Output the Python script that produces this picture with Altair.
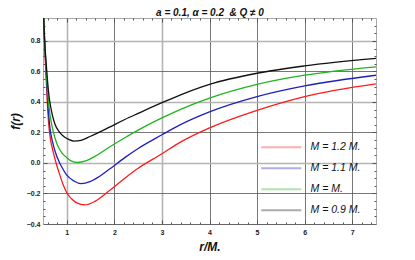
import altair as alt
import pandas as pd

# ---- data ----
labels = ["M = 1.2 M.", "M = 1.1 M.", "M = M.", "M = 0.9 M."]
colors = ["#ff1a1a", "#1f1fbf", "#1fb41f", "#111111"]

r_12 = [0.50, 0.525, 0.56, 0.59, 0.63, 0.66, 0.70, 0.775, 0.85, 0.92, 1.00, 1.10, 1.20, 1.38,
        1.60, 1.90, 2.22, 2.50, 3.00, 3.38, 4.00, 5.00, 6.00, 7.50]
f_12 = [1.05, 0.83, 0.60, 0.40, 0.22, 0.15, 0.09, 0.00, -0.075, -0.14, -0.195, -0.235, -0.26, -0.275,
        -0.25, -0.18, -0.10, -0.035, 0.06, 0.135, 0.23, 0.345, 0.435, 0.518]

r_11 = [0.50, 0.53, 0.565, 0.60, 0.65, 0.70, 0.75, 0.85, 0.90, 1.00, 1.15, 1.30, 1.50, 1.70,
        1.90, 2.22, 2.50, 3.00, 3.38, 4.00, 5.00, 6.00, 7.50]
f_11 = [1.05, 0.82, 0.60, 0.40, 0.22, 0.14, 0.08, 0.00, -0.03, -0.08, -0.118, -0.135, -0.12, -0.085,
        -0.04, 0.035, 0.095, 0.185, 0.25, 0.335, 0.435, 0.505, 0.575]

r_10 = [0.50, 0.535, 0.57, 0.61, 0.65, 0.72, 0.80, 0.90, 1.00, 1.10, 1.22, 1.40, 1.60, 1.90,
        2.22, 2.50, 3.00, 3.38, 4.00, 5.00, 6.00, 7.50]
f_10 = [1.05, 0.80, 0.60, 0.42, 0.31, 0.20, 0.12, 0.065, 0.035, 0.012, 0.003, 0.013, 0.045, 0.105,
        0.165, 0.215, 0.295, 0.35, 0.425, 0.515, 0.575, 0.63]

r_09 = [0.50, 0.54, 0.58, 0.60, 0.63, 0.66, 0.70, 0.75, 0.85, 0.95, 1.05, 1.15, 1.30, 1.50,
        1.90, 2.22, 2.50, 3.00, 3.38, 4.00, 5.00, 6.00, 7.50]
f_09 = [1.05, 0.77, 0.60, 0.52, 0.43, 0.37, 0.31, 0.255, 0.20, 0.17, 0.153, 0.143, 0.148, 0.175,
        0.235, 0.285, 0.325, 0.395, 0.445, 0.515, 0.588, 0.636, 0.685]

x_major = [1, 2, 3, 4, 5, 6, 7]
y_major = [-0.4, -0.2, 0.0, 0.2, 0.4, 0.6, 0.8]
x_ticks = [round(0.6 + 0.2 * i, 1) for i in range(35)]
y_ticks = [round(-0.35 + 0.05 * i, 2) for i in range(26)]
title_text = "a = 0.1, \u03b1 = 0.2\u00a0 & Q \u2260 0"

rows = []
for lab, rs, fs in zip(labels, [r_12, r_11, r_10, r_09], [f_12, f_11, f_10, f_09]):
    for r, f in zip(rs, fs):
        rows.append({"r": r, "f": f, "series": lab})
df = pd.DataFrame(rows)

W, H = 333, 206
FONT = "Liberation Sans"

xs = alt.Scale(domain=[0.5, 7.5], nice=False, zero=False)
ys = alt.Scale(domain=[-0.4, 0.95], nice=False, zero=False)

base = alt.Chart(df)

x_light = "datum.value == 1 || datum.value == 3"
y_light = "abs(datum.value - 0.8) < 0.01 || abs(datum.value - 0.4) < 0.01 || abs(datum.value) < 0.01"

main = base.mark_line(strokeWidth=1.3, clip=True, interpolate="monotone").encode(
    x=alt.X("r:Q", scale=xs, axis=alt.Axis(
        orient="bottom", values=x_major, format="d", grid=True,
        gridColor={"condition": {"test": x_light, "value": "#b4b4b4"}, "value": "#555555"},
        gridWidth={"condition": {"test": x_light, "value": 1.6}, "value": 0.8},
        tickSize=0, domain=False, labelPadding=4,
        labelFont=FONT, labelFontSize=7, labelFontWeight="bold", labelColor="#222",
        title="r/M.", titleFont=FONT, titleFontSize=12, titleFontWeight="bold",
        titleFontStyle="italic", titleColor="#111", titlePadding=6)),
    y=alt.Y("f:Q", scale=ys, axis=alt.Axis(
        orient="left", values=y_major, format=".1f", grid=True,
        gridColor={"condition": {"test": y_light, "value": "#b4b4b4"}, "value": "#555555"},
        gridWidth={"condition": {"test": y_light, "value": 1.6}, "value": 0.8},
        tickSize=0, domain=False, labelPadding=3,
        labelFont=FONT, labelFontSize=7, labelFontWeight="bold", labelColor="#222",
        title="f(r)", titleFont=FONT, titleFontSize=12, titleFontWeight="bold",
        titleFontStyle="italic", titleColor="#111", titlePadding=4)),
    color=alt.Color("series:N", sort=labels,
                    scale=alt.Scale(domain=labels, range=colors),
                    legend=alt.Legend(
                        orient="none", legendX=233, legendY=124, title=None, padding=0,
                        symbolType="M-5,0H5", symbolSize=64, symbolStrokeWidth=2,
                        symbolOpacity=0.35, labelOffset=24, rowPadding=10,
                        labelFont=FONT, labelFontSize=10.5, labelFontStyle="italic",
                        labelColor="#111")),
    order=alt.Order("r:Q"),
)

xmaj = "abs(datum.value - round(datum.value)) < 0.001"
ymaj = "abs(datum.value * 5 - round(datum.value * 5)) < 0.001"


def tick_axis_x(orient):
    return alt.Axis(orient=orient, offset=-H, values=x_ticks, labels=False, grid=False,
                    domain=False, title=None, tickColor="#555",
                    tickSize={"condition": {"test": xmaj, "value": 4}, "value": 2})


def tick_axis_y(orient):
    return alt.Axis(orient=orient, offset=-W, values=y_ticks, labels=False, grid=False,
                    domain=False, title=None, tickColor="#555",
                    tickSize={"condition": {"test": ymaj, "value": 4}, "value": 2})


ticks_a = base.mark_line(opacity=0).encode(
    x=alt.X("r:Q", scale=xs, axis=tick_axis_x("top")),
    y=alt.Y("f:Q", scale=ys, axis=tick_axis_y("right")),
    detail="series:N",
)
ticks_b = base.mark_line(opacity=0).encode(
    x=alt.X("r:Q", scale=xs, axis=tick_axis_x("bottom")),
    y=alt.Y("f:Q", scale=ys, axis=tick_axis_y("left")),
    detail="series:N",
)
# top axis that only carries the chart heading
heading = base.mark_line(opacity=0).encode(
    x=alt.X("r:Q", scale=xs, axis=alt.Axis(
        orient="top", ticks=False, labels=False, domain=False, grid=False,
        title=title_text, titleFont=FONT, titleFontSize=10, titleFontWeight="bold",
        titleFontStyle="italic", titleColor="#111", titleBaseline="alphabetic",
        titleY=-3)),
    y=alt.Y("f:Q", scale=ys, axis=None),
    detail="series:N",
)

chart = alt.layer(main, ticks_a, ticks_b, heading).resolve_axis(
    x="independent", y="independent"
).properties(
    width=W, height=H,
    autosize=alt.AutoSizeParams(type="none"),
    padding={"left": 35, "top": 10, "right": 30, "bottom": 34},
).configure_view(stroke="#a8a8a8", strokeWidth=1)

chart.save("out.html", embed_options={"renderer": "svg", "actions": False})
